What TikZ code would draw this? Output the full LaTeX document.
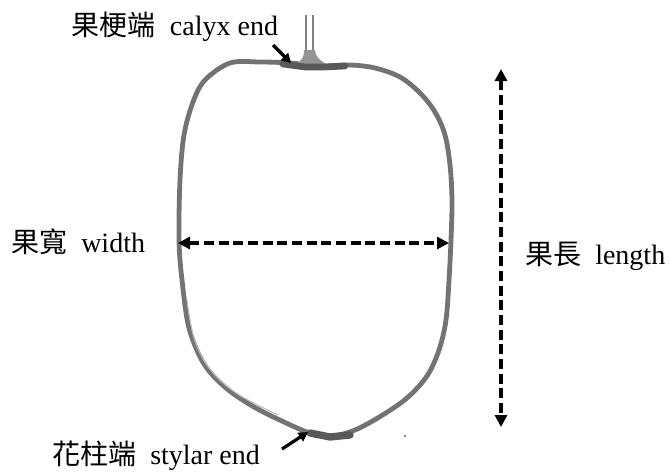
\documentclass[tikz,border=0pt]{standalone}
\usepackage{fontspec}
\setmainfont{Liberation Serif}
\newfontfamily\cjk{Noto Sans CJK TC}
\usetikzlibrary{arrows.meta}
\tikzset{
  lbl/.style={inner sep=0pt, font=\fontsize{21}{25}\selectfont},
  outline/.style={draw=black!55, line width=3.6pt, line join=round},
  dimarrow/.style={line width=2.3pt, dash pattern=on 7.5pt off 3.5pt, {Triangle[length=9pt,width=9pt]}-{Triangle[length=9pt,width=9pt]}},
  pointer/.style={line width=2.4pt, -{Triangle[length=7pt,width=7.5pt]}},
}
\begin{document}
\begin{tikzpicture}[x=0.75pt,y=-0.75pt]
\useasboundingbox (0,0) rectangle (670,475);
% fruit outline
\draw[outline] plot[smooth cycle, tension=0.55] coordinates {
 (205,80) (230,63) (260,62) (290,63) (320,66) (350,65) (375,68) (400,77)
 (420,93) (435,112) (445,135) (450,165) (452,200) (451,240) (449,280)
 (446,320) (439,350) (427,376) (407,398) (381,416) (355,430) (332,436)
 (310,433) (284,422) (254,407) (226,388) (204,364) (189,328) (182,280)
 (179,240) (180,180) (184,135) (193,102)};
% faint inner sketch stroke
\draw[black!28, line width=0.8pt] plot[smooth, tension=0.6] coordinates {
 (187,300) (194,338) (209,368) (236,393) (278,415)};
% stem
\draw[black!50, line width=1.4pt] (306,15) -- (306,64);
\draw[black!50, line width=1.4pt] (313,15) -- (313,64);
\fill[black!42] (304,50) -- (315,50) .. controls (316,58) and (320,60) .. (326,64) -- (296,64) .. controls (302,60) and (304,58) .. cycle;
% calyx and stylar blobs
\draw[black!65, line width=5pt, line cap=round] (283,64) -- (305,67) -- (325,67) -- (345,66);
\draw[black!65, line width=5.5pt, line cap=round] (310,433) -- (330,437) -- (350,435);
% small dot
\fill[black!50] (405,436) circle (1.3);
% labels
\node[lbl] (calyx) at (175,27) {{\cjk 果梗端}\ \ calyx end};
\node[lbl, anchor=west] (wid) at (11,242) {{\cjk 果寬}\ \ width};
\node[lbl, anchor=west] (len) at (525,256) {{\cjk 果長}\ \ length};
\node[lbl, anchor=west] (styl) at (52,456) {{\cjk 花柱端}\ \ stylar end};
% anchor points
\coordinate (calyxtail) at (273,45);
\coordinate (calyxhead) at (291,63);
\coordinate (styltail) at (282,449);
\coordinate (stylhead) at (308,432);
\coordinate (wl) at (178,243);
\coordinate (wr) at (449,243);
\coordinate (lt) at (501,69);
\coordinate (lb) at (501,427);
% connectors
\draw[dimarrow] (wl) -- (wr);
\draw[dimarrow] (lt) -- (lb);
\draw[pointer] (calyxtail) -- (calyxhead);
\draw[pointer] (styltail) -- (stylhead);
\end{tikzpicture}
\end{document}
